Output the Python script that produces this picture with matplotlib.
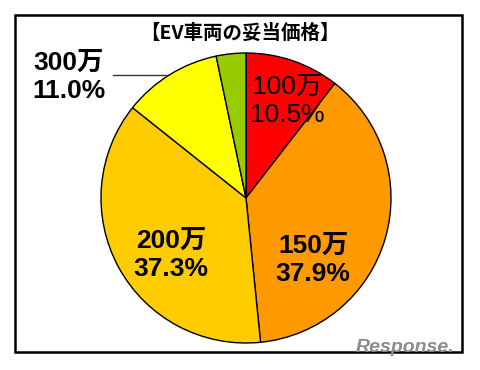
import matplotlib
matplotlib.use("Agg")
import matplotlib.pyplot as plt
from matplotlib.patches import Rectangle

plt.rcParams['font.family'] = ['Liberation Sans', 'Noto Sans CJK JP', 'DejaVu Sans']

# data
categories = ['100万', '150万', '200万', '300万', 'その他']
shares = [10.5, 37.9, 37.3, 11.0, 3.3]
colors = ['#FF0000', '#FF9900', '#FFCC00', '#FFFF00', '#99CC00']
title = '【EV車両の妥当価格】'

W, H = 480, 370
fig = plt.figure(figsize=(W / 100, H / 100), dpi=100)
ax = fig.add_axes([0, 0, 1, 1])
ax.set_xlim(0, W)
ax.set_ylim(0, H)
ax.set_aspect('equal')
ax.axis('off')

def py(y):
    # pixel row (from top) -> axes y
    return H - y

ax.pie(shares, colors=colors, startangle=90, counterclock=False,
       center=(246, py(198)), radius=145,
       wedgeprops=dict(edgecolor='black', linewidth=1.0))
ax.set_xlim(0, W)
ax.set_ylim(0, H)

# frame around the chart
ax.add_patch(Rectangle((15, py(352)), 447, 337, fill=False,
                       edgecolor='black', linewidth=1.8, zorder=5))

ax.text(240, py(33), title, ha='center', va='center', fontsize=14,
        fontweight='bold', family=['Noto Sans CJK JP', 'DejaVu Sans'])

# slice labels
label_pos = {'100万': (287, 101), '150万': (313, 260), '200万': (171, 255),
             '300万': (69, 77)}
for cat, val in zip(categories, shares):
    if cat not in label_pos:
        continue
    x, y = label_pos[cat]
    weight = 'normal' if cat == '100万' else 'bold'
    ax.text(x, py(y), f'{cat}\n{val:.1f}%', ha='center', va='center',
            fontsize=19, fontweight=weight, linespacing=1.25)

# leader line for 300万
ax.plot([113, 166], [py(75), py(75)], color='#333333', linewidth=1.0)

# watermark
ax.text(405, py(347), 'Response.', ha='center', va='center', fontsize=14,
        fontweight='bold', style='italic', color='#8c8c8c', zorder=6)

fig.savefig('out.png', dpi=100)
